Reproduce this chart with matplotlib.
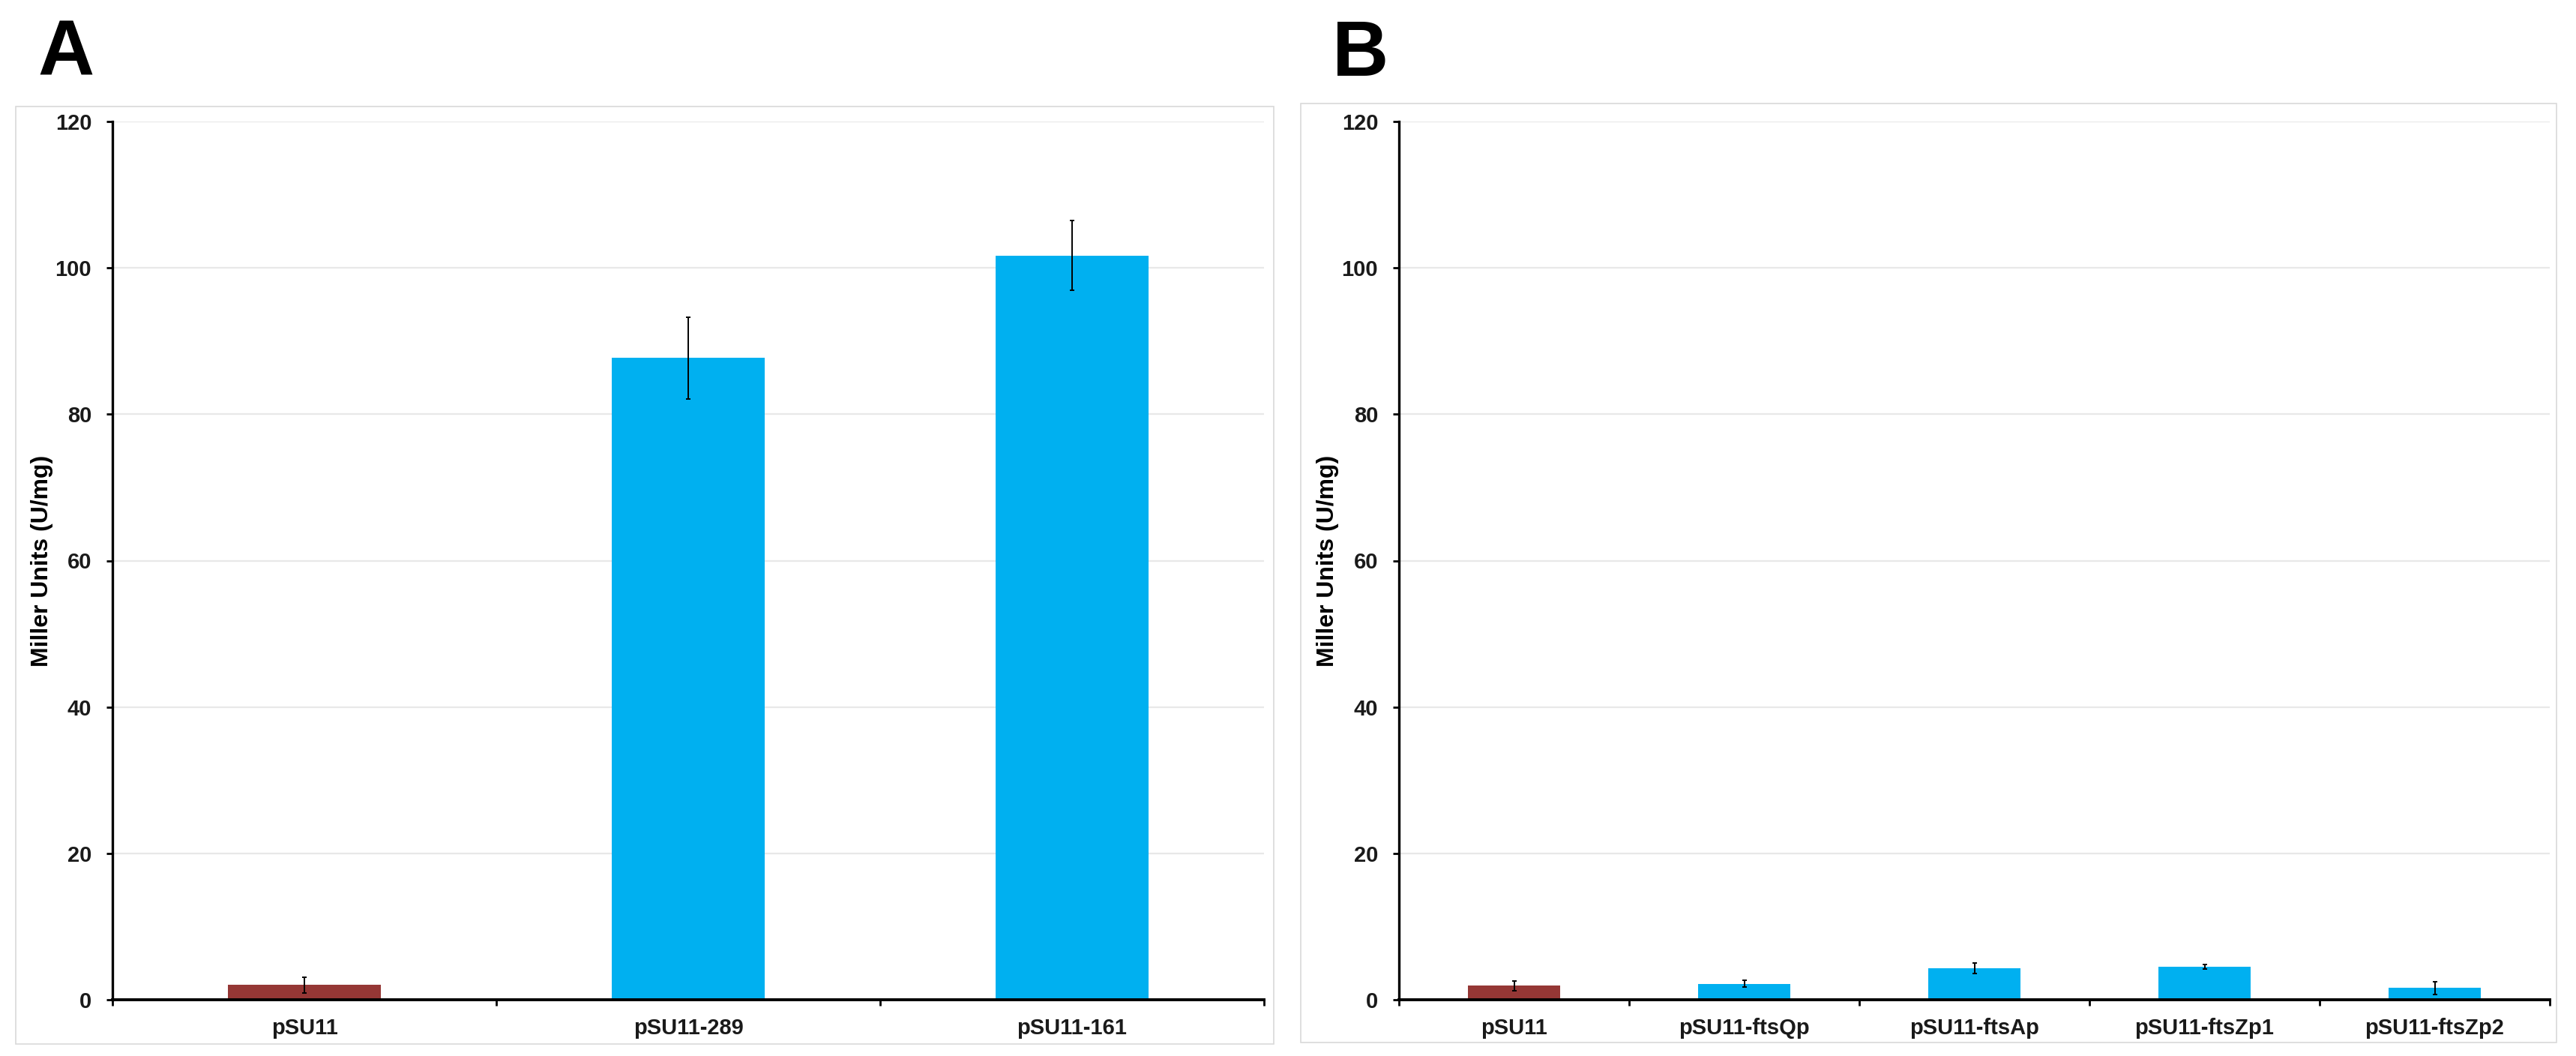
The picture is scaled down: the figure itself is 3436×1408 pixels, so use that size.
import matplotlib.pyplot as plt
from matplotlib.patches import Rectangle

# DATA.
# Panel A.
labels_a = ["pSU11", "pSU11-289", "pSU11-161"]
values_a = [2.0, 87.7, 101.7]
errors_a = [1.1, 5.6, 4.8]
colors_a = ["#953735", "#00B0F0", "#00B0F0"]

# Panel B.
labels_b = ["pSU11", "pSU11-ftsQp", "pSU11-ftsAp", "pSU11-ftsZp1", "pSU11-ftsZp2"]
values_b = [1.9, 2.2, 4.3, 4.5, 1.6]
errors_b = [0.7, 0.5, 0.7, 0.3, 0.9]
colors_b = ["#953735", "#00B0F0", "#00B0F0", "#00B0F0", "#00B0F0"]

y_ticks = [0, 20, 40, 60, 80, 100, 120]
y_label = "Miller Units (U/mg)"

plt.rcParams['font.family'] = ['Liberation Sans', 'DejaVu Sans']

W, H = 3436, 1408
DPI = 100


def px_rect(x0, y0, x1, y1):
    # Convert pixel box (top-left origin) into figure fraction.
    return [x0 / W, 1 - y1 / H, (x1 - x0) / W, (y1 - y0) / H]


def draw_panel(fig, box, frame, labels, values, errors, colors, label_x):
    # Light grey border of the chart area.
    fx0, fy0, fx1, fy1 = frame
    fig.add_artist(Rectangle((fx0 / W, 1 - fy1 / H), (fx1 - fx0) / W,
                             (fy1 - fy0) / H, transform=fig.transFigure,
                             fill=False, ec='#D9D9D9', lw=1.2, zorder=0))

    ax = fig.add_axes(px_rect(*box))
    n = len(labels)
    xs = list(range(n))
    ax.bar(xs, values, width=0.4, color=colors, zorder=2)
    ax.errorbar(xs, values, yerr=errors, fmt='none', ecolor='black',
                elinewidth=1.4, capsize=2, capthick=1.4, zorder=3)

    ax.set_xlim(-0.5, n - 0.5)
    ax.set_ylim(0, 120)
    ax.set_yticks(y_ticks)
    ax.set_yticklabels([str(t) for t in y_ticks])

    # Category labels at centers, tick marks at boundaries.
    ax.set_xticks(xs)
    ax.set_xticklabels(labels)
    ax.set_xticks([i - 0.5 for i in range(n + 1)], minor=True)
    ax.tick_params(axis='x', which='major', length=0, pad=17)
    ax.tick_params(axis='x', which='minor', length=6, width=2, direction='out')
    ax.tick_params(axis='y', length=6, width=2, direction='out', pad=14)
    for t in ax.get_xticklabels() + ax.get_yticklabels():
        t.set_fontsize(21)
        t.set_fontweight('bold')
        t.set_color('#1a1a1a')

    # Gridlines.
    ax.yaxis.grid(True, color='#E8E8E8', lw=1.6)
    ax.set_axisbelow(True)

    # Spines.
    for s in ['top', 'right']:
        ax.spines[s].set_visible(False)
    ax.spines['left'].set_linewidth(2.4)
    ax.spines['bottom'].set_linewidth(2.8)
    ax.spines['bottom'].set_zorder(4)

    ax.set_ylabel(y_label, fontsize=23, fontweight='bold', va='center')
    ax.yaxis.set_label_coords(label_x, 0.5)
    return ax


fig = plt.figure(figsize=(W / DPI, H / DPI), dpi=DPI)

draw_panel(fig, (150, 162, 1686, 1333), (21, 142, 1699, 1392),
           labels_a, values_a, errors_a, colors_a, -0.0612)
draw_panel(fig, (1866, 162, 3401, 1333), (1735, 138, 3410, 1390),
           labels_b, values_b, errors_b, colors_b, -0.0619)

# Panel letters.
fig.text(50 / W, 1 - 100 / H, "A", fontsize=75, fontweight='bold',
         ha='left', va='baseline')
fig.text(1777 / W, 1 - 101 / H, "B", fontsize=75, fontweight='bold',
         ha='left', va='baseline')

plt.savefig("out.png", dpi=DPI)
